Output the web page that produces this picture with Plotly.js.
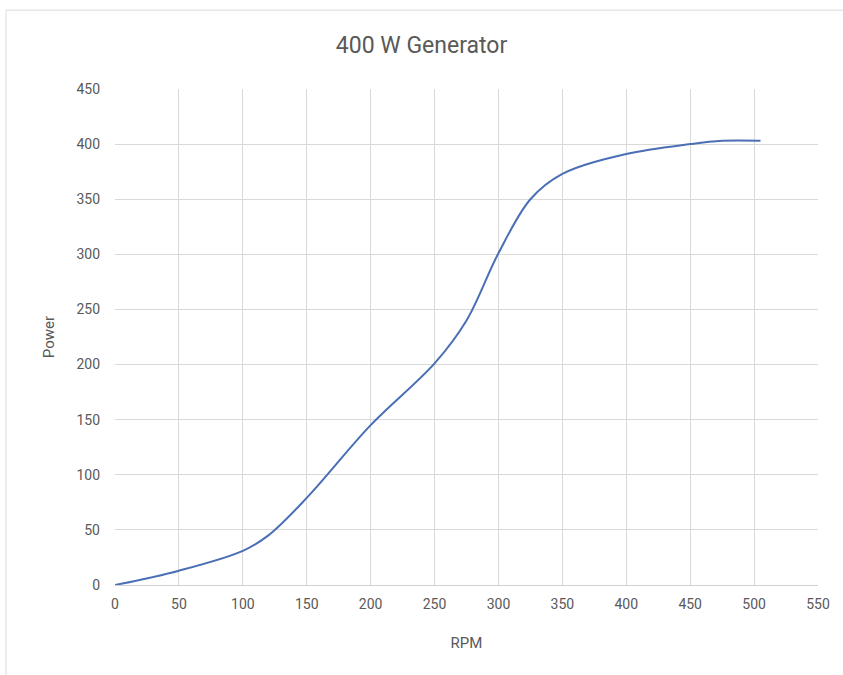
<!DOCTYPE html>
<html>
<head>
<meta charset="utf-8">
<script src="https://cdn.plot.ly/plotly-3.0.1.min.js"></script>
<style>
  html, body { margin: 0; padding: 0; background: #fff; }
  #chart { width: 843px; height: 675px; }
</style>
</head>
<body>
<div id="chart"></div>
<script>
// Generator power curve: RPM vs output power (W)
const rpm   = [0, 50, 100, 120, 150, 200, 250, 275, 300, 325, 350, 400, 450, 475, 505];
const power = [0, 13, 31, 45, 79, 145, 201, 240, 301, 350, 373, 391, 400, 403, 403];

const xTicks = [0, 50, 100, 150, 200, 250, 300, 350, 400, 450, 500, 550];
const yTicks = [0, 50, 100, 150, 200, 250, 300, 350, 400, 450];

const fontFam = 'Roboto, Arial, sans-serif';
const tickColor = '#595959';

const trace = {
  x: rpm,
  y: power,
  type: 'scatter',
  mode: 'lines',
  line: { color: '#4a6fb5', width: 2, shape: 'spline', smoothing: 1 },
  hoverinfo: 'x+y'
};

const layout = {
  width: 843,
  height: 675,
  margin: { l: 115, r: 25, t: 89, b: 90 },
  paper_bgcolor: '#ffffff',
  plot_bgcolor: '#ffffff',
  showlegend: false,
  title: {
    text: '400 W Generator',
    x: 0.5,
    xanchor: 'center',
    y: 0.933,
    yanchor: 'middle',
    font: { family: fontFam, size: 23, color: '#595959' }
  },
  xaxis: {
    range: [0, 550],
    tickvals: xTicks,
    ticktext: xTicks.map(String),
    showgrid: true,
    gridcolor: '#d9d9d9',
    gridwidth: 1,
    zeroline: false,
    showline: true,
    linecolor: '#d0d0d0',
    linewidth: 1,
    ticks: '',
    ticklabelstandoff: 6,
    tickfont: { family: fontFam, size: 14, color: tickColor },
    title: { text: 'RPM', standoff: 26, font: { family: fontFam, size: 15, color: tickColor } },
    fixedrange: true
  },
  yaxis: {
    range: [0, 450],
    tickvals: yTicks,
    ticktext: yTicks.map(String),
    showgrid: true,
    gridcolor: '#d9d9d9',
    gridwidth: 1,
    zeroline: false,
    showline: false,
    ticks: '',
    ticklabelstandoff: 14,
    tickfont: { family: fontFam, size: 14, color: tickColor },
    title: { text: 'Power', standoff: 18, font: { family: fontFam, size: 15, color: tickColor } },
    fixedrange: true
  },
  shapes: [
    {
      type: 'rect', xref: 'paper', yref: 'paper',
      x0: -0.155, x1: 1.08, y0: -0.2, y1: 1.159,
      line: { color: '#d9d9d9', width: 1 },
      fillcolor: 'rgba(0,0,0,0)', layer: 'below'
    }
  ]
};

Plotly.newPlot('chart', [trace], layout, { displayModeBar: false, staticPlot: true });
</script>
</body>
</html>
